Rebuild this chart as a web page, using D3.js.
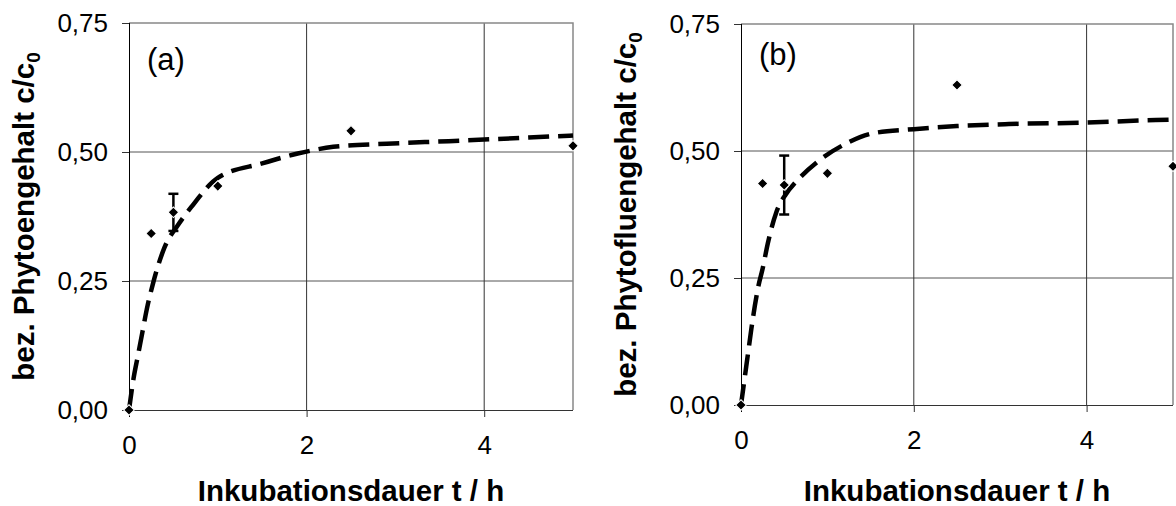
<!DOCTYPE html>
<html lang="de">
<head>
    <meta charset="utf-8">
    <script src="https://d3js.org/d3.v7.min.js"></script>
    <style>
        body { margin: 0; background: #fff; }
        text { font-family: "Liberation Sans", Arial, sans-serif; fill: #000; }
    </style>
</head>
<body>
    <svg width="1176" height="506"></svg>
    <script>
        // measured points (Inkubationsdauer in h, c/c0)
        const timeH = [0, 0.25, 0.5, 1, 2.5, 5];
        const phytoen = [0, 0.342, 0.383, 0.434, 0.541, 0.512];
        const phytoenErr = [0, 0, 0.036, 0, 0, 0];
        const phytofluen = [0, 0.436, 0.433, 0.456, 0.63, 0.47];
        const phytofluenErr = [0, 0, 0.058, 0, 0, 0];

        // fitted curves
        const fitTimeA = [0, 0.05, 0.1, 0.15, 0.2, 0.27, 0.4, 0.55, 0.7, 1.0, 1.5, 1.9, 2.3, 2.9, 3.6, 4.5, 5];
        const fitA = [0, 0.06, 0.105, 0.15, 0.195, 0.245, 0.315, 0.358, 0.393, 0.45, 0.478, 0.497, 0.51, 0.516, 0.521, 0.528, 0.532];
        const fitTimeB = [0, 0.04, 0.08, 0.12, 0.16, 0.2, 0.25, 0.31, 0.41, 0.52, 0.64, 0.91, 1.22, 1.53, 2, 2.5, 3.1, 4, 4.8, 5];
        const fitB = [0, 0.05, 0.1, 0.15, 0.195, 0.233, 0.268, 0.318, 0.38, 0.415, 0.44, 0.482, 0.515, 0.535, 0.543, 0.549, 0.553, 0.556, 0.561, 0.562];

        const xTicks = [0, 2, 4];
        const yTicks = [0, 0.25, 0.5, 0.75];
        const yTickLabels = ["0,00", "0,25", "0,50", "0,75"];

        const svg = d3.select("svg");

        function panel(p) {
            const x = d3.scaleLinear().domain([0, 5]).range([p.left, p.right]);
            const y = d3.scaleLinear().domain([0, 0.75]).range([p.bottom, p.top]);
            const g = svg.append("g");

            // grid
            g.selectAll(".hg").data(yTicks.slice(1, 3)).join("line")
                .attr("x1", p.left).attr("x2", p.right)
                .attr("y1", d => y(d)).attr("y2", d => y(d))
                .attr("stroke", "#555").attr("stroke-width", 1);
            g.selectAll(".vg").data(xTicks.slice(1)).join("line")
                .attr("x1", d => x(d)).attr("x2", d => x(d))
                .attr("y1", p.top).attr("y2", p.bottom)
                .attr("stroke", "#333").attr("stroke-width", 1);

            // plot border (top/right)
            g.append("path")
                .attr("d", `M${p.left},${p.top}H${p.right}V${p.bottom}`)
                .attr("fill", "none").attr("stroke", "#888").attr("stroke-width", 1.5);

            // axes
            const xAxis = g.append("g").attr("transform", `translate(0,${p.bottom})`)
                .call(d3.axisBottom(x).tickValues(xTicks).tickSize(7).tickPadding(19).tickFormat(d3.format("d")));
            xAxis.select(".domain").attr("stroke", "#333").attr("d", `M${p.left - 7},0.5H${p.right}`);
            xAxis.selectAll(".tick line").attr("stroke", "#333");
            xAxis.selectAll("text").attr("font-size", 26);

            const yAxis = g.append("g").attr("transform", `translate(${p.left},0)`)
                .call(d3.axisLeft(y).tickValues(yTicks).tickSize(7).tickPadding(14)
                    .tickFormat((d, i) => yTickLabels[i]));
            yAxis.select(".domain").attr("stroke", "#000").attr("d", `M0.5,${p.top}V${p.bottom + 7}`);
            yAxis.selectAll(".tick line").attr("stroke", "#333");
            yAxis.selectAll("text").attr("font-size", 26);

            // fitted curve
            const line = d3.line().x(d => x(d[0])).y(d => y(d[1])).curve(d3.curveMonotoneX);
            g.append("path")
                .datum(p.fitT.map((t, i) => [t, p.fit[i]]))
                .attr("d", line)
                .attr("fill", "none").attr("stroke", "#000")
                .attr("stroke-width", 4.5).attr("stroke-dasharray", "21,9");

            const pts = timeH.map((t, i) => ({ t: t, v: p.vals[i], e: p.err[i] }));

            // error bars
            const eb = g.selectAll(".eb").data(pts.filter(d => d.e > 0)).join("g");
            eb.append("line")
                .attr("x1", d => x(d.t)).attr("x2", d => x(d.t))
                .attr("y1", d => y(d.v - d.e)).attr("y2", d => y(d.v + d.e))
                .attr("stroke", "#000").attr("stroke-width", 2.5);
            eb.selectAll(".cap").data(d => [[d.t, d.v - d.e], [d.t, d.v + d.e]]).join("line")
                .attr("x1", d => x(d[0]) - 5).attr("x2", d => x(d[0]) + 5)
                .attr("y1", d => y(d[1])).attr("y2", d => y(d[1]))
                .attr("stroke", "#000").attr("stroke-width", 2.5);

            // diamond markers
            const diamond = d3.symbol().type(d3.symbolSquare).size(56);
            g.selectAll(".pt").data(pts).join("path")
                .attr("d", diamond)
                .attr("transform", d => `translate(${x(d.t)},${y(d.v)}) rotate(45)`)
                .attr("fill", "#000").attr("stroke", "#fff").attr("stroke-width", 1);

            // panel letter
            g.append("text").attr("x", p.left + 18).attr("y", p.top + p.letterDy)
                .attr("font-size", 31).text(p.letter);

            // axis titles
            g.append("text")
                .attr("x", (p.left + p.right) / 2).attr("y", 501)
                .attr("text-anchor", "middle").attr("font-size", 29.5).attr("font-weight", "bold")
                .text("Inkubationsdauer t / h");

            const yt = g.append("text")
                .attr("transform", `translate(${p.titleX},${(p.top + p.bottom) / 2}) rotate(-90)`)
                .attr("text-anchor", "middle").attr("font-size", 29.5).attr("font-weight", "bold");
            yt.append("tspan").text(p.ytitle + " c/c");
            yt.append("tspan").attr("font-size", 19).attr("dy", 6).text("0");
        }

        panel({
            left: 129, right: 573, top: 23, bottom: 410, titleX: 34, letterDy: 47,
            vals: phytoen, err: phytoenErr, fitT: fitTimeA, fit: fitA,
            letter: "(a)", ytitle: "bez. Phytoengehalt"
        });
        panel({
            left: 741, right: 1173, top: 24, bottom: 405, titleX: 636, letterDy: 41,
            vals: phytofluen, err: phytofluenErr, fitT: fitTimeB, fit: fitB,
            letter: "(b)", ytitle: "bez. Phytofluengehalt"
        });
    </script>
</body>
</html>
